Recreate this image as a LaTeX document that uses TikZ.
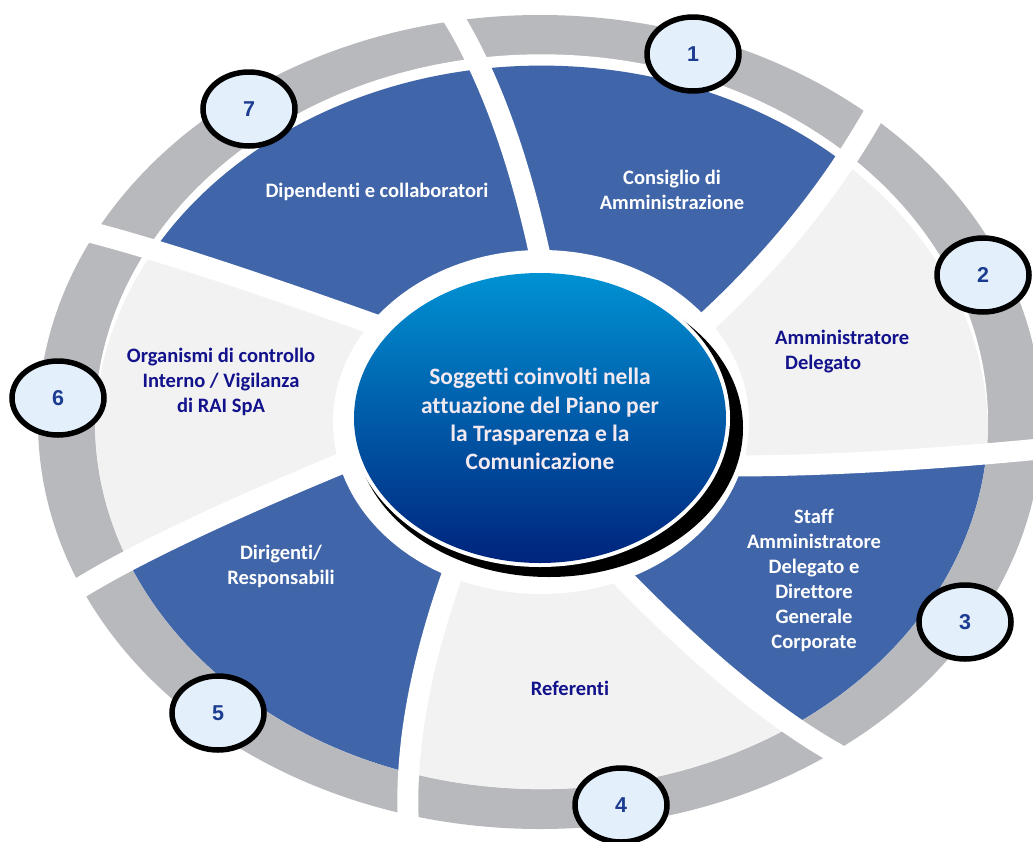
\documentclass[tikz,border=0pt]{standalone}
\usepackage{fontspec}
\setmainfont{Carlito}[Ligatures=NoCommon]
\newfontfamily\numfont{Liberation Sans}
\usetikzlibrary{shapes.geometric}
\definecolor{ringgrey}{RGB}{184,185,188}
\definecolor{sectblue}{RGB}{64,101,168}
\definecolor{sectlight}{RGB}{242,242,242}
\definecolor{navytext}{RGB}{18,18,140}
\definecolor{numtext}{RGB}{28,60,145}
\definecolor{numfill}{RGB}{227,239,250}
\definecolor{ctop}{RGB}{0,146,212}
\definecolor{cmid}{RGB}{0,78,165}
\definecolor{cbot}{RGB}{0,36,125}
\definecolor{ctext}{RGB}{243,233,241}
\begin{document}
\begin{tikzpicture}[x=1pt,y=-1pt,
  sepline/.style={white, line width=21pt},
  lbl/.style={font=\fontsize{20.5}{25}\selectfont\bfseries, align=center, inner sep=0pt},
  whitelbl/.style={lbl, text=white},
  navylbl/.style={lbl, text=navytext},
  numnode/.style={ellipse, draw=black, line width=5.5pt, fill=numfill,
    minimum width=92pt, minimum height=74pt, inner sep=0pt, text=numtext,
    font=\numfont\fontsize{21.5}{24}\selectfont\bfseries}]
\useasboundingbox (0,0) rectangle (1033,841);
\fill[white] (0,0) rectangle (1033,841);
% outer grey ring
\fill[ringgrey] (540,422) ellipse [x radius=502, y radius=407];
\fill[white] (541.5,421.7) ellipse [x radius=446.5, y radius=367.4];
% sectors
\begin{scope}
  \clip (541.5,421.7) ellipse [x radius=446.5, y radius=367.4];
  \clip (541.5,433) ellipse [x radius=446.5, y radius=367.4];
  \fill[sectlight] (0,0) rectangle (1033,841);
  % sector 1
  \fill[sectblue] (541,422) -- (545,280) .. controls (520,153) and (483,56) .. (435,-10)
     -- (650,-200) -- (1000,-60) -- (899,66) .. controls (853,162) and (787,249) .. (700,328) -- cycle;
  % sector 3
  \fill[sectblue] (541,422) -- (728,466) .. controls (829,466) and (943,459) .. (1070,446)
     -- (1200,600) -- (1000,900) -- (880,775) .. controls (807,745) and (718,677) .. (615,570) -- cycle;
  % sector 5
  \fill[sectblue] (541,422) -- (452,575) .. controls (416,677) and (402,767) .. (410,845)
     -- (200,1000) -- (-100,700) -- (50,608) .. controls (97,573) and (195,524) .. (345,462) -- cycle;
  % sector 7
  \fill[sectblue] (541,422) -- (390,330) .. controls (203,263) and (86,227) .. (40,222)
     -- (-100,0) -- (200,-150) -- (435,-10) .. controls (483,56) and (520,153) .. (545,280) -- cycle;
\end{scope}
% white separators
\draw[sepline] (435,-10) .. controls (483,56) and (520,153) .. (545,280);
\draw[sepline] (899,66) .. controls (853,162) and (787,249) .. (700,328);
\draw[sepline] (1070,446) .. controls (943,459) and (829,466) .. (728,466);
\draw[sepline] (615,570) .. controls (718,677) and (807,745) .. (880,775);
\draw[sepline] (452,575) .. controls (416,677) and (402,767) .. (410,845);
\draw[sepline] (345,462) .. controls (195,524) and (97,573) .. (50,608);
\draw[sepline] (390,330) .. controls (203,263) and (86,227) .. (40,222);
% central ellipse
\fill[white] (541,422) ellipse [x radius=208, y radius=172];
\fill[black] (549,428) ellipse [x radius=194, y radius=149];
\fill[white] (540,418) ellipse [x radius=190, y radius=149];
\shade[top color=ctop, middle color=cmid, bottom color=cbot] (540,418) ellipse [x radius=186, y radius=145];
\node[lbl, text=ctext, font=\fontsize{23.5}{28.3}\selectfont\bfseries] (centre) at (540,419)
  {Soggetti coinvolti nella\\attuazione del Piano per\\la Trasparenza e la\\Comunicazione};
% sector labels
\node[whitelbl] (l1) at (672,190) {Consiglio di\\Amministrazione};
\node[navylbl, anchor=west, align=left] (l2) at (775,352) {Amministratore\\\hspace*{10pt}Delegato};
\node[whitelbl] (l3) at (814,580) {Staff\\Amministratore\\Delegato e\\Direttore\\Generale\\Corporate};
\node[navylbl] (l4) at (570,688) {Referenti};
\node[whitelbl] (l5) at (281,566) {Dirigenti/\\Responsabili};
\node[navylbl] (l6) at (221,382) {Organismi di controllo\\Interno / Vigilanza\\di RAI SpA};
\node[whitelbl] (l7) at (377,192) {Dipendenti e collaboratori};
% number ellipses
\node[numnode] (n1) at (693,54) {1};
\node[numnode] (n2) at (983,275) {2};
\node[numnode] (n3) at (965,622) {3};
\node[numnode] (n4) at (621,805) {4};
\node[numnode] (n5) at (218,713) {5};
\node[numnode] (n6) at (58,398) {6};
\node[numnode] (n7) at (249,109) {7};
\end{tikzpicture}
\end{document}
